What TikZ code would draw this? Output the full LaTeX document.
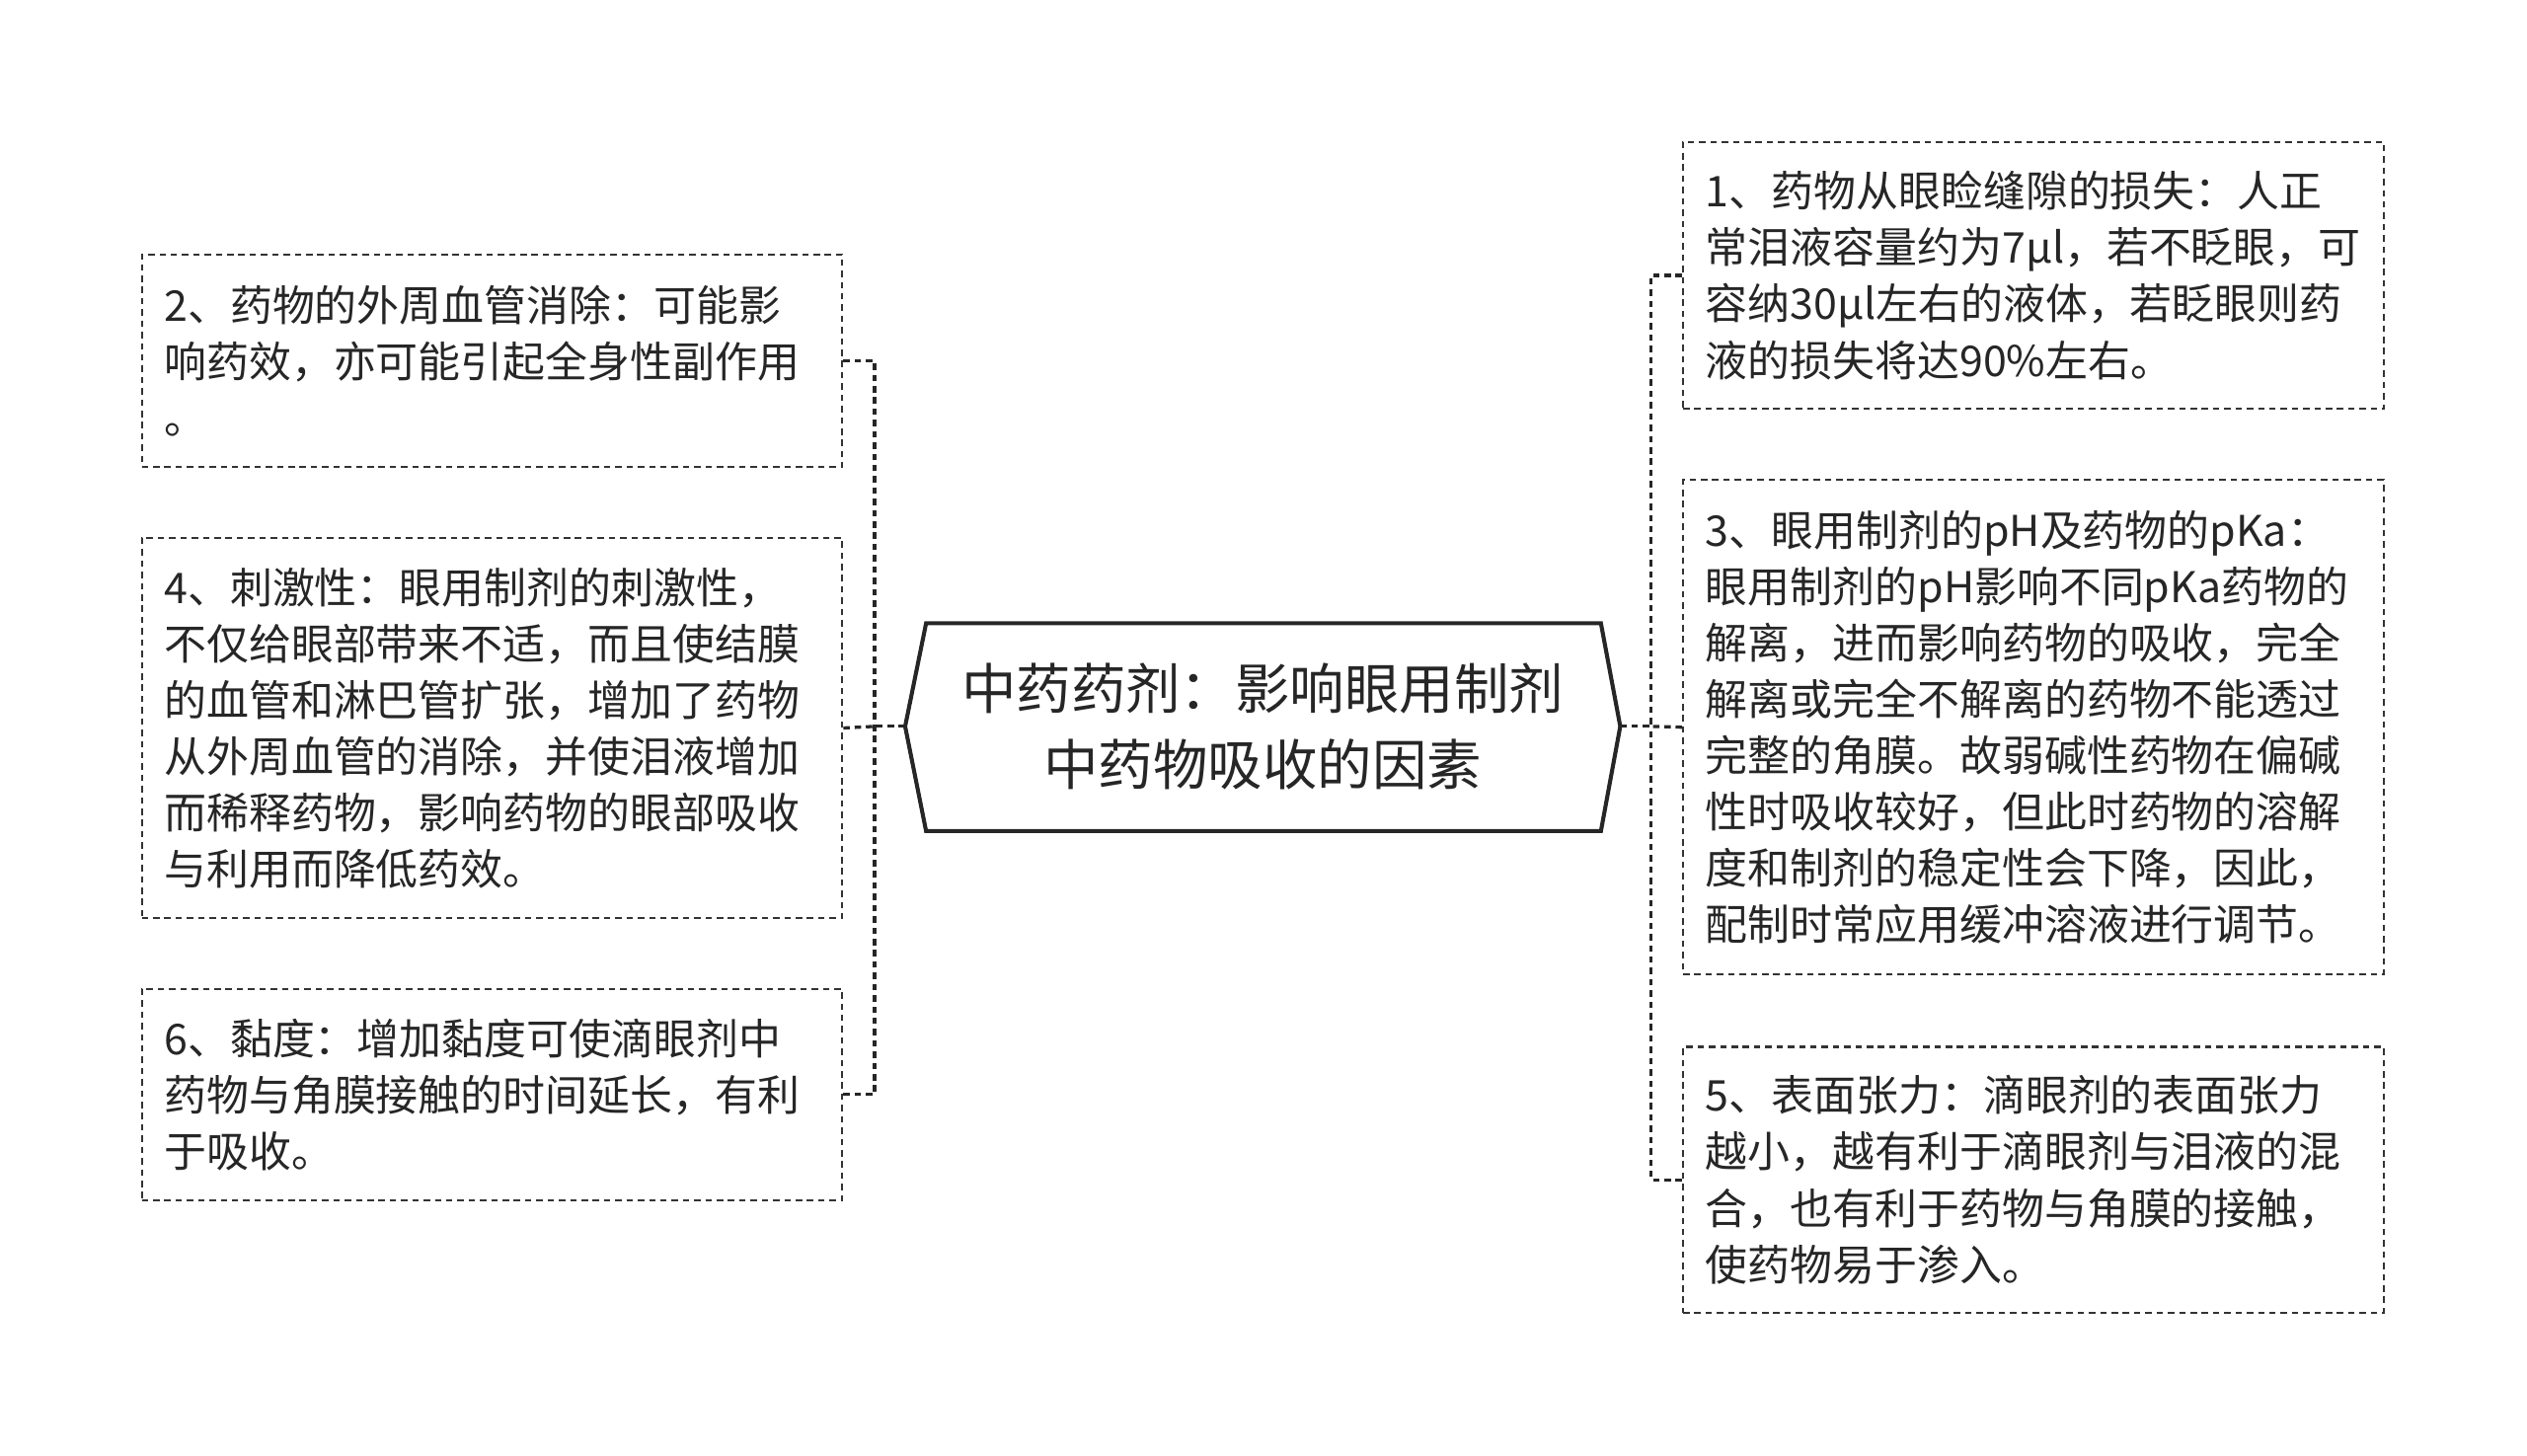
\documentclass[tikz,border=0pt]{standalone}
\usepackage{fontspec}
\setmainfont{Noto Sans CJK SC}
\begin{document}
\begin{tikzpicture}[x=1pt,y=-1pt,
 box/.style={draw=black!80,dash pattern=on 4pt off 3pt,line width=1.3pt,minimum width=435pt,text width=407pt,align=left,inner sep=0pt,font=\fontsize{26.3}{35}\selectfont,text=black!85},
 con/.style={draw=black!85,line width=2pt,dash pattern=on 4pt off 3pt}]
\useasboundingbox (0,0) rectangle (1569,904);
\draw[line width=2.5pt,black!85] (575,387)--(994,387)--(1006,451)--(994,516)--(575,516)--(562,451)--cycle;
\node[font=\fontsize{34}{47}\selectfont,align=center,text=black!85] (c) at (784,451) {中药药剂：影响眼用制剂\\中药物吸收的因素};
\coordinate (cl) at (562,451); \coordinate (cr) at (1006,451);
\node[box,minimum height=132pt] (b2) at (305.5,224) {2、药物的外周血管消除：可能影\\响药效，亦可能引起全身性副作用\\。};
\node[box,minimum height=236pt] (b4) at (305.5,452) {4、刺激性：眼用制剂的刺激性，\\不仅给眼部带来不适，而且使结膜\\的血管和淋巴管扩张，增加了药物\\从外周血管的消除，并使泪液增加\\而稀释药物，影响药物的眼部吸收\\与利用而降低药效。};
\node[box,minimum height=131pt] (b6) at (305.5,679.5) {6、黏度：增加黏度可使滴眼剂中\\药物与角膜接触的时间延长，有利\\于吸收。};
\node[box,minimum height=166pt] (b1) at (1262.5,171) {1、药物从眼睑缝隙的损失：人正\\常泪液容量约为7μl，若不眨眼，可\\容纳30μl左右的液体，若眨眼则药\\液的损失将达90\%左右。};
\node[box,minimum height=307pt] (b3) at (1262.5,451.5) {3、眼用制剂的pH及药物的pKa：\\眼用制剂的pH影响不同pKa药物的\\解离，进而影响药物的吸收，完全\\解离或完全不解离的药物不能透过\\完整的角膜。故弱碱性药物在偏碱\\性时吸收较好，但此时药物的溶解\\度和制剂的稳定性会下降，因此，\\配制时常应用缓冲溶液进行调节。};
\node[box,minimum height=165pt] (b5) at (1262.5,732.5) {5、表面张力：滴眼剂的表面张力\\越小，越有利于滴眼剂与泪液的混\\合，也有利于药物与角膜的接触，\\使药物易于渗入。};
\draw[con] (cl)--(543,451);
\draw[con] (b2.east)-|(543,451);
\draw[con] (b6.east)-|(543,451);
\draw[con] (b4.east)--(543,451);
\draw[con] (cr)--(1025,451);
\draw[con] (b1.west)-|(1025,451);
\draw[con] (b5.west)-|(1025,451);
\draw[con] (b3.west)--(1025,451);
\end{tikzpicture}
\end{document}
